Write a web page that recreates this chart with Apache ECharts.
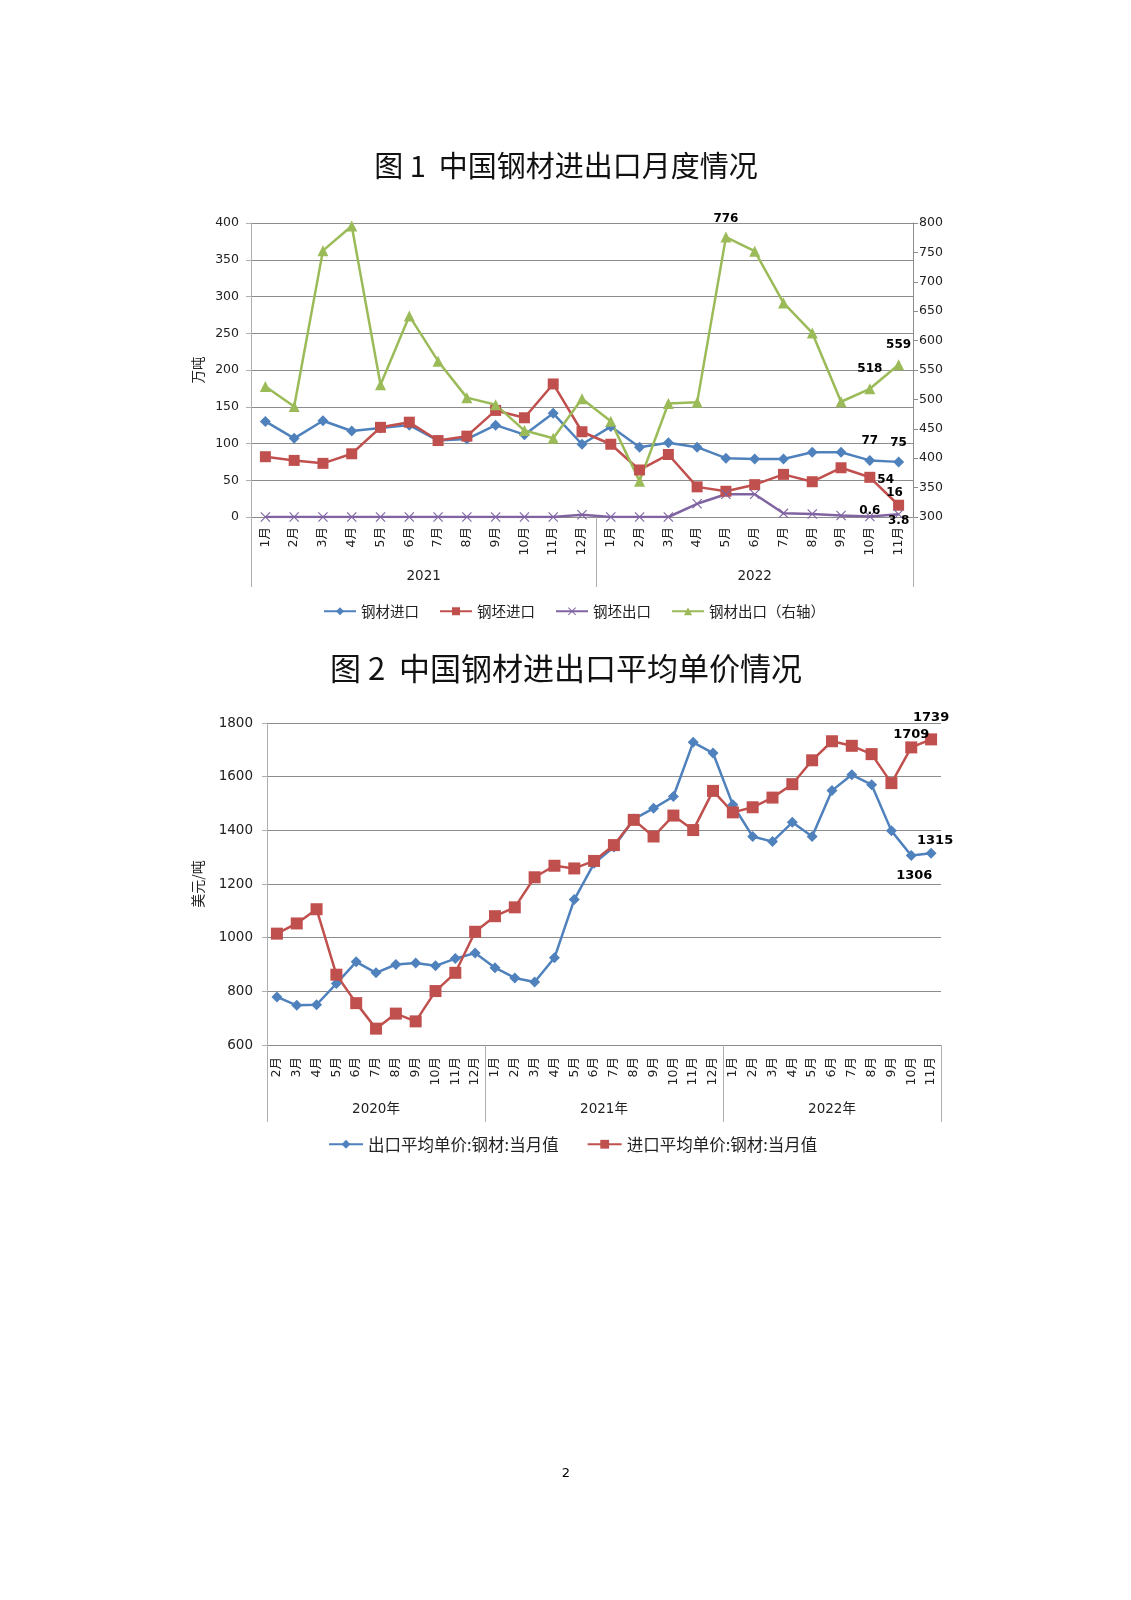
<!DOCTYPE html>
<html>
<head>
<meta charset="utf-8">
<style>
  html, body { margin: 0; padding: 0; background: #fff; }
  #page { width: 1131px; height: 1600px; }
</style>
<script src="https://cdn.jsdelivr.net/npm/echarts@6.0.0/dist/echarts.min.js"></script>
</head>
<body>
<div id="page"></div>
<script>
// 图1 数据（2021年1月 - 2022年11月，万吨）
var months1 = ["1月", "2月", "3月", "4月", "5月", "6月", "7月", "8月", "9月", "10月", "11月", "12月",
  "1月", "2月", "3月", "4月", "5月", "6月", "7月", "8月", "9月", "10月", "11月"];
var years1 = ["2021", "2022"];
var yearMonths1 = [12, 11];
var steelImport = [130, 107, 131, 117, 121, 125, 104, 106, 125, 112, 141, 99,
  123, 95, 101, 95, 80, 79, 79, 88, 88, 77, 75];
var billetImport = [82, 77, 73, 86, 122, 129, 104, 110, 145, 135, 181, 116,
  99, 64, 85, 41, 35, 44, 58, 48, 67, 54, 16];
var billetExport = [0, 0, 0, 0, 0, 0, 0, 0, 0, 0, 0, 3,
  0, 0, 0, 18, 31, 31, 5, 4, 2, 0.6, 3.8];
var steelExport = [522, 488, 753, 795, 525, 642, 565, 503, 491, 447, 434, 501,
  463, 361, 493, 495, 776, 752, 664, 613, 496, 518, 559];

// 图2 数据（2020年2月 - 2022年11月，美元/吨）
var months2 = ["2月", "3月", "4月", "5月", "6月", "7月", "8月", "9月", "10月", "11月", "12月",
  "1月", "2月", "3月", "4月", "5月", "6月", "7月", "8月", "9月", "10月", "11月", "12月",
  "1月", "2月", "3月", "4月", "5月", "6月", "7月", "8月", "9月", "10月", "11月"];
var years2 = ["2020年", "2021年", "2022年"];
var yearMonths2 = [11, 12, 11];
var exportPrice = [779, 748, 750, 829, 910, 869, 900, 906, 895, 922, 943,
  888, 850, 835, 925, 1142, 1277, 1338, 1442, 1482, 1526, 1728, 1688,
  1495, 1377, 1358, 1430, 1377, 1548, 1607, 1570, 1398, 1306, 1315];
var importPrice = [1015, 1053, 1106, 862, 756, 661, 717, 688, 801, 869, 1022,
  1080, 1113, 1225, 1268, 1258, 1286, 1345, 1439, 1377, 1455, 1401, 1547,
  1467, 1486, 1522, 1572, 1661, 1732, 1715, 1684, 1576, 1709, 1739];

var BLUE = "#4F81BD", RED = "#C0504D", PURPLE = "#8064A2", GREEN = "#9BBB59";
var GRID = "#8c8c8c", FRAME = "#b0b0b0";
var NUM_FONT = "DejaVu Sans, Noto Sans CJK SC";
var CJK_FONT = "Noto Sans CJK SC";
var CROSS = "path://M0,0.8L0.8,0L5,4.2L9.2,0L10,0.8L5.8,5L10,9.2L9.2,10L5,5.8L0.8,10L0,9.2L4.2,5Z";

// 年份分组：分隔线位置 + 标签位置
function groupBounds(counts) {
  var b = [0];
  counts.forEach(function (c) { b.push(b[b.length - 1] + c); });
  return b;
}
function groupCenters(counts) {
  var b = groupBounds(counts);
  return counts.map(function (c, i) { return b[i] + c / 2; });
}
function yearFormatter(counts, names) {
  var centers = groupCenters(counts);
  return function (v) {
    var i = centers.indexOf(v);
    return i >= 0 ? names[i] : "";
  };
}

// 给指定点加数据标签
function labelled(values, marks, base) {
  return values.map(function (v, i) {
    if (!marks[i]) return v;
    return { value: v, label: Object.assign({ show: true }, base, marks[i]) };
  });
}
var lbl1 = { fontFamily: "DejaVu Sans", fontWeight: "bold", fontSize: 12, color: "#000" };
var lbl2 = { fontFamily: "DejaVu Sans", fontWeight: "bold", fontSize: 13, color: "#000" };
var plain = function (v) { return String(v); };

function monthAxis(gridIndex, data, margin, size) {
  return {
    type: "category", gridIndex: gridIndex, data: data, boundaryGap: true,
    axisLine: { onZero: false, lineStyle: { color: GRID, width: 1 } },
    axisTick: { show: false },
    axisLabel: { interval: 0, rotate: 90, margin: margin, fontSize: size, color: "#222", fontFamily: NUM_FONT },
    splitLine: { show: false }
  };
}
function yearAxis(gridIndex, counts, names, tickLen, labelMargin) {
  var total = counts.reduce(function (a, b) { return a + b; }, 0);
  return {
    type: "value", gridIndex: gridIndex, position: "bottom", min: 0, max: total,
    axisLine: { show: false, onZero: false },
    splitLine: { show: false },
    axisTick: { show: true, length: tickLen, customValues: groupBounds(counts), lineStyle: { color: FRAME, width: 1 } },
    axisLabel: { show: true, customValues: groupCenters(counts), formatter: yearFormatter(counts, names),
      margin: labelMargin, fontSize: 13.5, color: "#222", fontFamily: NUM_FONT }
  };
}

var myChart = echarts.init(document.getElementById("page"), null, { renderer: "canvas" });

var option = {
  backgroundColor: "#fff",
  animation: false,
  title: [
    { text: "图 1  中国钢材进出口月度情况", left: 566, top: 151, textAlign: "center", padding: 0,
      textStyle: { fontFamily: CJK_FONT, fontSize: 29, fontWeight: "normal", color: "#111" } },
    { text: "图 2  中国钢材进出口平均单价情况", left: 566, top: 653, textAlign: "center", padding: 0,
      textStyle: { fontFamily: CJK_FONT, fontSize: 31, fontWeight: "normal", color: "#111" } },
    { text: "2", left: 566, top: 1467, textAlign: "center", padding: 0,
      textStyle: { fontFamily: "DejaVu Sans", fontSize: 13, fontWeight: "normal", color: "#000" } }
  ],
  legend: [
    { left: 318, top: 599, itemWidth: 32, itemHeight: 10, itemGap: 20,
      textStyle: { fontFamily: CJK_FONT, fontSize: 14.5, color: "#222" },
      data: ["钢材进口", "钢坯进口", "钢坯出口", "钢材出口（右轴）"] },
    { left: 323, top: 1131, itemWidth: 34, itemHeight: 11, itemGap: 28,
      textStyle: { fontFamily: CJK_FONT, fontSize: 16.5, color: "#222" },
      data: ["出口平均单价:钢材:当月值", "进口平均单价:钢材:当月值"] }
  ],
  grid: [
    { left: 251, top: 223, width: 662, height: 294 },
    { left: 267, top: 723, width: 674, height: 322 }
  ],
  xAxis: [
    monthAxis(0, months1, 10, 12.5),
    yearAxis(0, yearMonths1, years1, 70, 53),
    monthAxis(1, months2, 12, 12.5),
    yearAxis(1, yearMonths2, years2, 77, 58)
  ],
  yAxis: [
    { type: "value", gridIndex: 0, position: "left", min: 0, max: 400, interval: 50,
      name: "万吨", nameLocation: "middle", nameRotate: 90, nameGap: 46,
      nameTextStyle: { fontFamily: CJK_FONT, fontSize: 13.5, color: "#222" },
      axisLine: { show: true, lineStyle: { color: FRAME } },
      axisTick: { show: true, length: 5, lineStyle: { color: FRAME } },
      axisLabel: { margin: 12, fontSize: 12.5, color: "#222", fontFamily: NUM_FONT, formatter: plain },
      splitLine: { lineStyle: { color: GRID, width: 1 } } },
    { type: "value", gridIndex: 0, position: "right", min: 300, max: 800, interval: 50,
      axisLine: { show: true, lineStyle: { color: GRID } },
      axisTick: { show: true, length: 5, lineStyle: { color: GRID } },
      axisLabel: { margin: 6, fontSize: 12.5, color: "#222", fontFamily: NUM_FONT, formatter: plain },
      splitLine: { show: false } },
    { type: "value", gridIndex: 1, position: "left", min: 600, max: 1800, interval: 200,
      name: "美元/吨", nameLocation: "middle", nameRotate: 90, nameGap: 62,
      nameTextStyle: { fontFamily: CJK_FONT, fontSize: 14, color: "#222" },
      axisLine: { show: true, lineStyle: { color: FRAME } },
      axisTick: { show: true, length: 5, lineStyle: { color: FRAME } },
      axisLabel: { margin: 14, fontSize: 13.5, color: "#222", fontFamily: NUM_FONT, formatter: plain },
      splitLine: { lineStyle: { color: GRID, width: 1 } } }
  ],
  series: [
    { name: "钢材进口", type: "line", xAxisIndex: 0, yAxisIndex: 0,
      symbol: "diamond", symbolSize: 11, color: BLUE, lineStyle: { width: 2.5 },
      data: labelled(steelImport, {
        21: { position: "top", distance: 8 },
        22: { position: "top", distance: 8 }
      }, lbl1) },
    { name: "钢坯进口", type: "line", xAxisIndex: 0, yAxisIndex: 0,
      symbol: "rect", symbolSize: 11, color: RED, lineStyle: { width: 2.5 },
      data: labelled(billetImport, {
        21: { position: "right", distance: 2, offset: [0, 3] },
        22: { position: "top", distance: 1, offset: [-4, 0] }
      }, lbl1) },
    { name: "钢坯出口", type: "line", xAxisIndex: 0, yAxisIndex: 0,
      symbol: CROSS, symbolSize: 10, color: PURPLE, lineStyle: { width: 2.5 },
      data: labelled(billetExport, {
        21: { position: "top", distance: 0, offset: [0, 5] },
        22: { position: "bottom", distance: 0, offset: [0, -4] }
      }, lbl1) },
    { name: "钢材出口（右轴）", type: "line", xAxisIndex: 0, yAxisIndex: 1,
      symbol: "triangle", symbolSize: 11, color: GREEN, lineStyle: { width: 2.5 },
      data: labelled(steelExport, {
        16: { position: "top", distance: 7 },
        21: { position: "top", distance: 8 },
        22: { position: "top", distance: 8 }
      }, lbl1) },
    { name: "出口平均单价:钢材:当月值", type: "line", xAxisIndex: 2, yAxisIndex: 2,
      symbol: "diamond", symbolSize: 11, color: BLUE, lineStyle: { width: 2.5 },
      data: labelled(exportPrice, {
        32: { position: "bottom", distance: 8, offset: [3, 0] },
        33: { position: "top", distance: 1, offset: [4, 0] }
      }, lbl2) },
    { name: "进口平均单价:钢材:当月值", type: "line", xAxisIndex: 2, yAxisIndex: 2,
      symbol: "rect", symbolSize: 12, color: RED, lineStyle: { width: 2.5 },
      data: labelled(importPrice, {
        32: { position: "top", distance: 0 },
        33: { position: "top", distance: 9 }
      }, lbl2) }
  ]
};

myChart.setOption(option);
</script>
</body>
</html>
